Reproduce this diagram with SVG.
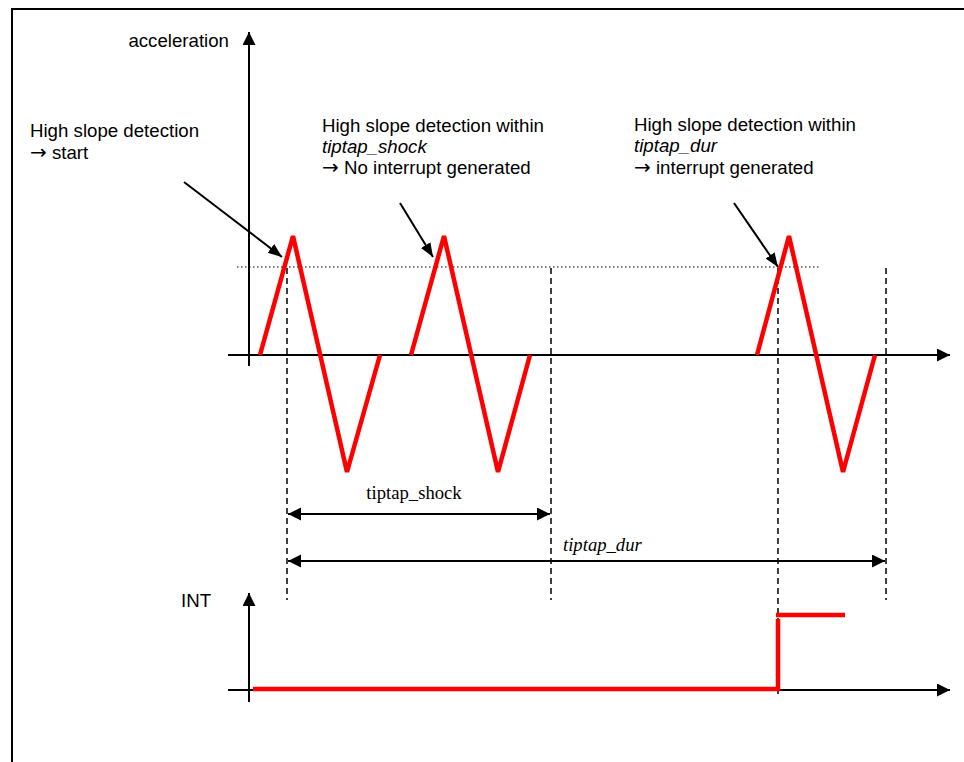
<svg xmlns="http://www.w3.org/2000/svg" width="964" height="762" viewBox="0 0 964 762">
<defs>
<marker id="ah" markerUnits="userSpaceOnUse" markerWidth="14" markerHeight="14" refX="13" refY="6.5" orient="auto-start-reverse">
<path d="M0,0 L13,6.5 L0,13 z" fill="#000"/>
</marker>
<marker id="ap" markerUnits="userSpaceOnUse" markerWidth="16" markerHeight="12" refX="14" refY="5.5" orient="auto">
<path d="M0,0 L14,5.5 L0,11 z" fill="#000"/>
</marker>
</defs>
<style>
.ax{stroke:#000;stroke-width:2;fill:none}
.dash{stroke:#000;stroke-width:1.5;stroke-dasharray:6 4;fill:none}
.dot{stroke:#000;stroke-width:1.2;stroke-dasharray:1.5 2.5;fill:none}
.sig{stroke:#ff0000;stroke-width:4.5;fill:none;stroke-linejoin:miter}
.t{font-family:"Liberation Sans",Arial,sans-serif;font-size:18.67px;fill:#000}
.s{font-family:"Liberation Serif","Times New Roman",serif;font-size:18.67px;fill:#000}
.i{font-style:italic}
.arr{font-family:"DejaVu Sans",sans-serif;font-size:20px}
</style>
<rect width="964" height="762" fill="#fff"/>
<g id="frame">
<path d="M12,762 V9 H964" class="ax"/>
</g>
<g id="connectors">
<line x1="249" y1="366" x2="249" y2="32" class="ax" marker-end="url(#ah)"/>
<line x1="228" y1="355" x2="950" y2="355" class="ax" marker-end="url(#ah)"/>
<line x1="249" y1="702" x2="249" y2="593" class="ax" marker-end="url(#ah)"/>
<line x1="228" y1="690" x2="950" y2="690" class="ax" marker-end="url(#ah)"/>
<line x1="237" y1="267" x2="820" y2="267" class="dot"/>
<line x1="287" y1="268" x2="287" y2="600" class="dash"/>
<line x1="551" y1="268" x2="551" y2="600" class="dash"/>
<line x1="778" y1="268" x2="778" y2="698" class="dash"/>
<line x1="886" y1="268" x2="886" y2="600" class="dash"/>
<line x1="288" y1="514" x2="550" y2="514" class="ax" marker-start="url(#ah)" marker-end="url(#ah)"/>
<line x1="288" y1="561" x2="885" y2="561" class="ax" marker-start="url(#ah)" marker-end="url(#ah)"/>
<line x1="184" y1="182" x2="282" y2="257" class="ax" marker-end="url(#ap)"/>
<line x1="400" y1="203" x2="433" y2="257" class="ax" marker-end="url(#ap)"/>
<line x1="734" y1="203" x2="778" y2="267" class="ax" marker-end="url(#ap)"/>
</g>
<g id="acceleration-signal">
<polyline points="260,355 293,236 347,472 380,355" class="sig"/>
<polyline points="411,355 444,236 498,472 530,355" class="sig"/>
<polyline points="757,355 789,236 843,472 875,355" class="sig"/>
</g>
<g id="int-signal">
<polyline points="253,689 778,689 778,619" class="sig"/>
<line x1="776" y1="615" x2="845" y2="615" class="sig"/>
</g>
<g id="label-acceleration"><text x="229" y="47" class="t" text-anchor="end">acceleration</text></g>
<g id="label-int"><text x="181" y="607" class="t">INT</text></g>
<g id="label-start">
<text x="30" y="137" class="t">High slope detection</text>
<text x="30" y="159" class="t"><tspan class="arr">→</tspan> start</text>
</g>
<g id="label-shock">
<text x="322" y="132" class="t">High slope detection within</text>
<text x="322" y="153" class="t i">tiptap_shock</text>
<text x="322" y="174" class="t"><tspan class="arr">→</tspan> No interrupt generated</text>
</g>
<g id="label-dur">
<text x="634" y="131" class="t">High slope detection within</text>
<text x="634" y="152" class="t i">tiptap_dur</text>
<text x="634" y="174" class="t"><tspan class="arr">→</tspan> interrupt generated</text>
</g>
<g id="label-tiptap-shock"><text x="414" y="499" class="s" text-anchor="middle">tiptap_shock</text></g>
<g id="label-tiptap-dur"><text x="563" y="551" class="s i">tiptap_dur</text></g>
</svg>
